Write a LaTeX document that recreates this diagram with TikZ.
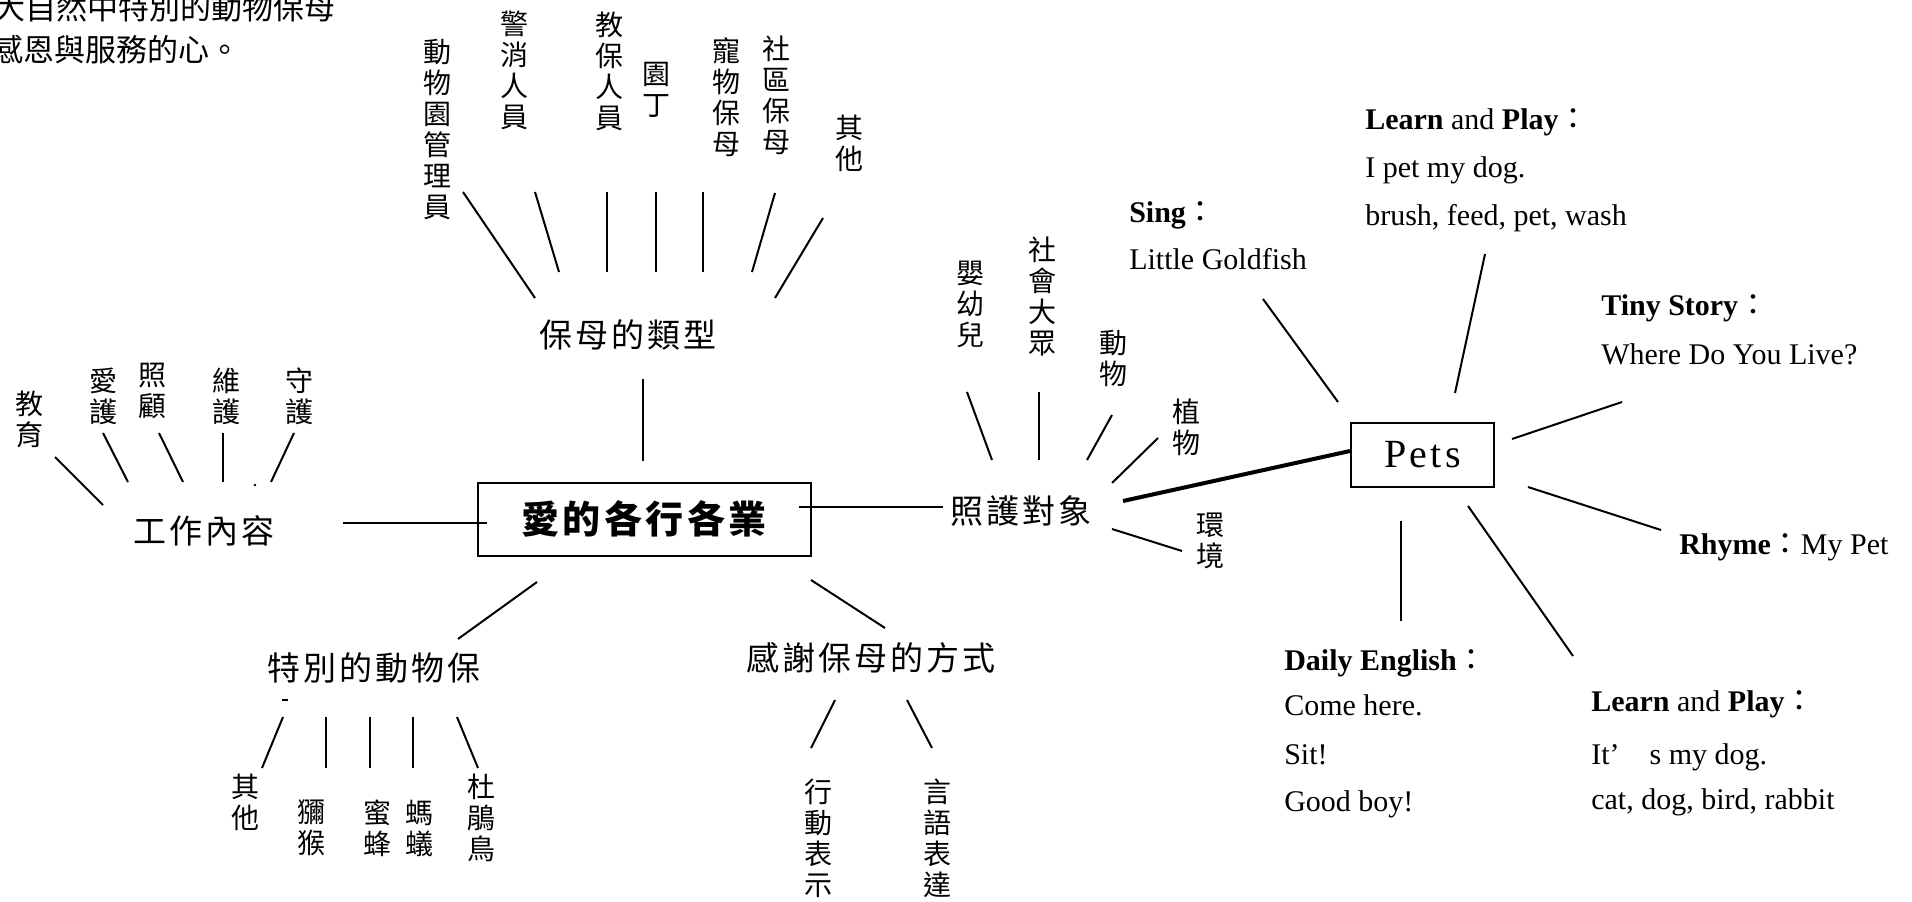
\documentclass[tikz,border=0pt]{standalone}
\usepackage{fontspec}
\setmainfont{Liberation Serif}
\newfontfamily\cjk{Noto Sans CJK TC}
\newfontfamily\cjkw[LetterSpace=9]{Noto Sans CJK TC}
\newfontfamily\petsfont[LetterSpace=8]{Liberation Serif}
\newcommand\fwc{{\cjk ：}}
\begin{document}
\begin{tikzpicture}[x=0.75pt,y=-0.75pt,
  hl/.style={font=\cjkw\fontsize{24.75}{26}\selectfont, inner sep=0pt},
  vl/.style={font=\cjk\fontsize{21}{23.25}\selectfont, align=center, inner sep=0pt},
  en/.style={font=\fontsize{22.5}{27}\selectfont, anchor=base west, inner sep=0pt},
  tl/.style={font=\cjk\fontsize{23.25}{26}\selectfont, anchor=east, inner sep=0pt},
  ln/.style={line width=1.5pt},
  heavy/.style={line width=3pt},
  boxed/.style={draw, line width=1.5pt, inner sep=0pt}]
\useasboundingbox (0,0) rectangle (1912,902);

% top-left text
\node[tl] (tx1) at (336,8) {大自然中特別的動物保母};
\node[tl] (tx2) at (241,50) {感恩與服務的心。};

% central nodes
\node[boxed, minimum width=249.75pt, minimum height=54.75pt,
      font=\cjkw\bfseries\fontsize{28.5}{30}\selectfont] (main) at (644,519) {愛的各行各業};
\node[hl] (bm) at (628,335) {保母的類型};
\node[hl] (gz) at (204,531) {工作內容};
\node[hl] (zh) at (1021,511) {照護對象};
\node[hl] (tb) at (374,668) {特別的動物保};
\node[hl] (gx) at (871,658) {感謝保母的方式};
\node[boxed, minimum width=107.25pt, minimum height=48pt,
      font=\petsfont\fontsize{30}{32}\selectfont] (pets) at (1422.5,455) {Pets};

% main connectors
\coordinate (mA1) at (643,379); \coordinate (mA2) at (643,461);
\draw[ln] (mA1) -- (mA2);
\coordinate (mB1) at (343,523); \coordinate (mB2) at (487,523);
\draw[ln] (mB1) -- (mB2);
\coordinate (mC1) at (799,507); \coordinate (mC2) at (943,507);
\draw[ln] (mC1) -- (mC2);
\coordinate (mD1) at (537,582); \coordinate (mD2) at (458,639);
\draw[ln] (mD1) -- (mD2);
\coordinate (mE1) at (811,580); \coordinate (mE2) at (885,628);
\draw[ln] (mE1) -- (mE2);
\coordinate (zp) at (1123,501);
\draw[heavy] (zp) -- ([yshift=3pt]pets.west);

% 保母的類型 branches
\node[vl] (b1) at (437,130) {動\\物\\園\\管\\理\\員};
\node[vl] (b2) at (514,70) {警\\消\\人\\員};
\node[vl] (b3) at (609,71) {教\\保\\人\\員};
\node[vl] (b4) at (656,90) {園\\丁};
\node[vl] (b5) at (726,97) {寵\\物\\保\\母};
\node[vl] (b6) at (776,95) {社\\區\\保\\母};
\node[vl] (b7) at (849,143) {其\\他};
\coordinate (b1a) at (463,192); \coordinate (b1b) at (535,298);
\coordinate (b2a) at (535,192); \coordinate (b2b) at (559,272);
\coordinate (b3a) at (607,192); \coordinate (b3b) at (607,272);
\coordinate (b4a) at (656,192); \coordinate (b4b) at (656,272);
\coordinate (b5a) at (703,192); \coordinate (b5b) at (703,272);
\coordinate (b6a) at (775,193); \coordinate (b6b) at (752,272);
\coordinate (b7a) at (823,218); \coordinate (b7b) at (775,298);
\foreach \i in {1,...,7} {\draw[ln] (b\i a) -- (b\i b);}

% 工作內容 branches
\node[vl] (g1) at (30,419) {教\\育};
\node[vl] (g2) at (103,396) {愛\\護};
\node[vl] (g3) at (152,391) {照\\顧};
\node[vl] (g4) at (226,396) {維\\護};
\node[vl] (g5) at (299,396) {守\\護};
\coordinate (g1a) at (55,457); \coordinate (g1b) at (103,505);
\coordinate (g2a) at (103,433); \coordinate (g2b) at (128,482);
\coordinate (g3a) at (159,433); \coordinate (g3b) at (183,482);
\coordinate (g4a) at (223,433); \coordinate (g4b) at (223,482);
\coordinate (g5a) at (294,433); \coordinate (g5b) at (271,482);
\foreach \i in {1,...,5} {\draw[ln] (g\i a) -- (g\i b);}
\coordinate (gdot) at (255,485);
\fill (gdot) circle (1pt);

% 照護對象 branches
\node[vl] (z1) at (970,304) {嬰\\幼\\兒};
\node[vl] (z2) at (1042,296) {社\\會\\大\\眾};
\node[vl] (z3) at (1113,358) {動\\物};
\node[vl] (z4) at (1186,427) {植\\物};
\node[vl] (z5) at (1210,541) {環\\境};
\coordinate (z1a) at (967,392); \coordinate (z1b) at (992,460);
\coordinate (z2a) at (1039,392); \coordinate (z2b) at (1039,460);
\coordinate (z3a) at (1112,415); \coordinate (z3b) at (1087,460);
\coordinate (z4a) at (1158,438); \coordinate (z4b) at (1112,483);
\coordinate (z5a) at (1112,529); \coordinate (z5b) at (1182,551);
\foreach \i in {1,...,5} {\draw[ln] (z\i a) -- (z\i b);}

% 特別的動物保 branches
\node[vl] (t1) at (245,802) {其\\他};
\node[vl] (t2) at (311,828) {獼\\猴};
\node[vl] (t3) at (377,828) {蜜\\蜂};
\node[vl] (t4) at (419,828) {螞\\蟻};
\node[vl] (t5) at (481,818) {杜\\鵑\\鳥};
\coordinate (t1a) at (283,717); \coordinate (t1b) at (262,768);
\coordinate (t2a) at (326,717); \coordinate (t2b) at (326,768);
\coordinate (t3a) at (370,717); \coordinate (t3b) at (370,768);
\coordinate (t4a) at (413,717); \coordinate (t4b) at (413,768);
\coordinate (t5a) at (457,717); \coordinate (t5b) at (478,768);
\foreach \i in {1,...,5} {\draw[ln] (t\i a) -- (t\i b);}
\coordinate (tdash1) at (282,700); \coordinate (tdash2) at (288,700);
\draw[line width=1pt] (tdash1) -- (tdash2);

% 感謝保母的方式 branches
\node[vl] (x1) at (818,838) {行\\動\\表\\示};
\node[vl] (x2) at (937,838) {言\\語\\表\\達};
\coordinate (x1a) at (835,700); \coordinate (x1b) at (811,748);
\coordinate (x2a) at (907,700); \coordinate (x2b) at (932,748);
\foreach \i in {1,2} {\draw[ln] (x\i a) -- (x\i b);}

% Pets branches
\node[en] (lp1a) at (1365,130) {\textbf{Learn} and \textbf{Play}\fwc};
\node[en] (lp1b) at (1365,178) {I pet my dog.};
\node[en] (lp1c) at (1365,226) {brush, feed, pet, wash};
\node[en] (sg1) at (1129,223) {\textbf{Sing}\fwc};
\node[en] (sg2) at (1129,270) {Little Goldfish};
\node[en] (ts1) at (1601,315) {\textbf{Tiny Story}\fwc};
\node[en] (ts2) at (1601,364) {Where Do You Live?};
\node[en] (rh) at (1679,554) {\textbf{Rhyme}\fwc My Pet};
\node[en] (de1) at (1284,670) {\textbf{Daily English}\fwc};
\node[en] (de2) at (1284,715) {Come here.};
\node[en] (de3) at (1284,764) {Sit!};
\node[en] (de4) at (1284,811) {Good boy!};
\node[en] (lp2a) at (1591,711) {\textbf{Learn} and \textbf{Play}\fwc};
\node[en] (lp2b) at (1591,764) {It’\hspace{1em}s my dog.};
\node[en] (lp2c) at (1591,809) {cat, dog, bird, rabbit};
\coordinate (p1a) at (1485,254); \coordinate (p1b) at (1455,393);
\coordinate (p2a) at (1263,299); \coordinate (p2b) at (1338,402);
\coordinate (p3a) at (1512,439); \coordinate (p3b) at (1622,402);
\coordinate (p4a) at (1528,487); \coordinate (p4b) at (1661,530);
\coordinate (p5a) at (1401,521); \coordinate (p5b) at (1401,621);
\coordinate (p6a) at (1468,506); \coordinate (p6b) at (1573,656);
\foreach \i in {1,...,6} {\draw[ln] (p\i a) -- (p\i b);}
\end{tikzpicture}
\end{document}
